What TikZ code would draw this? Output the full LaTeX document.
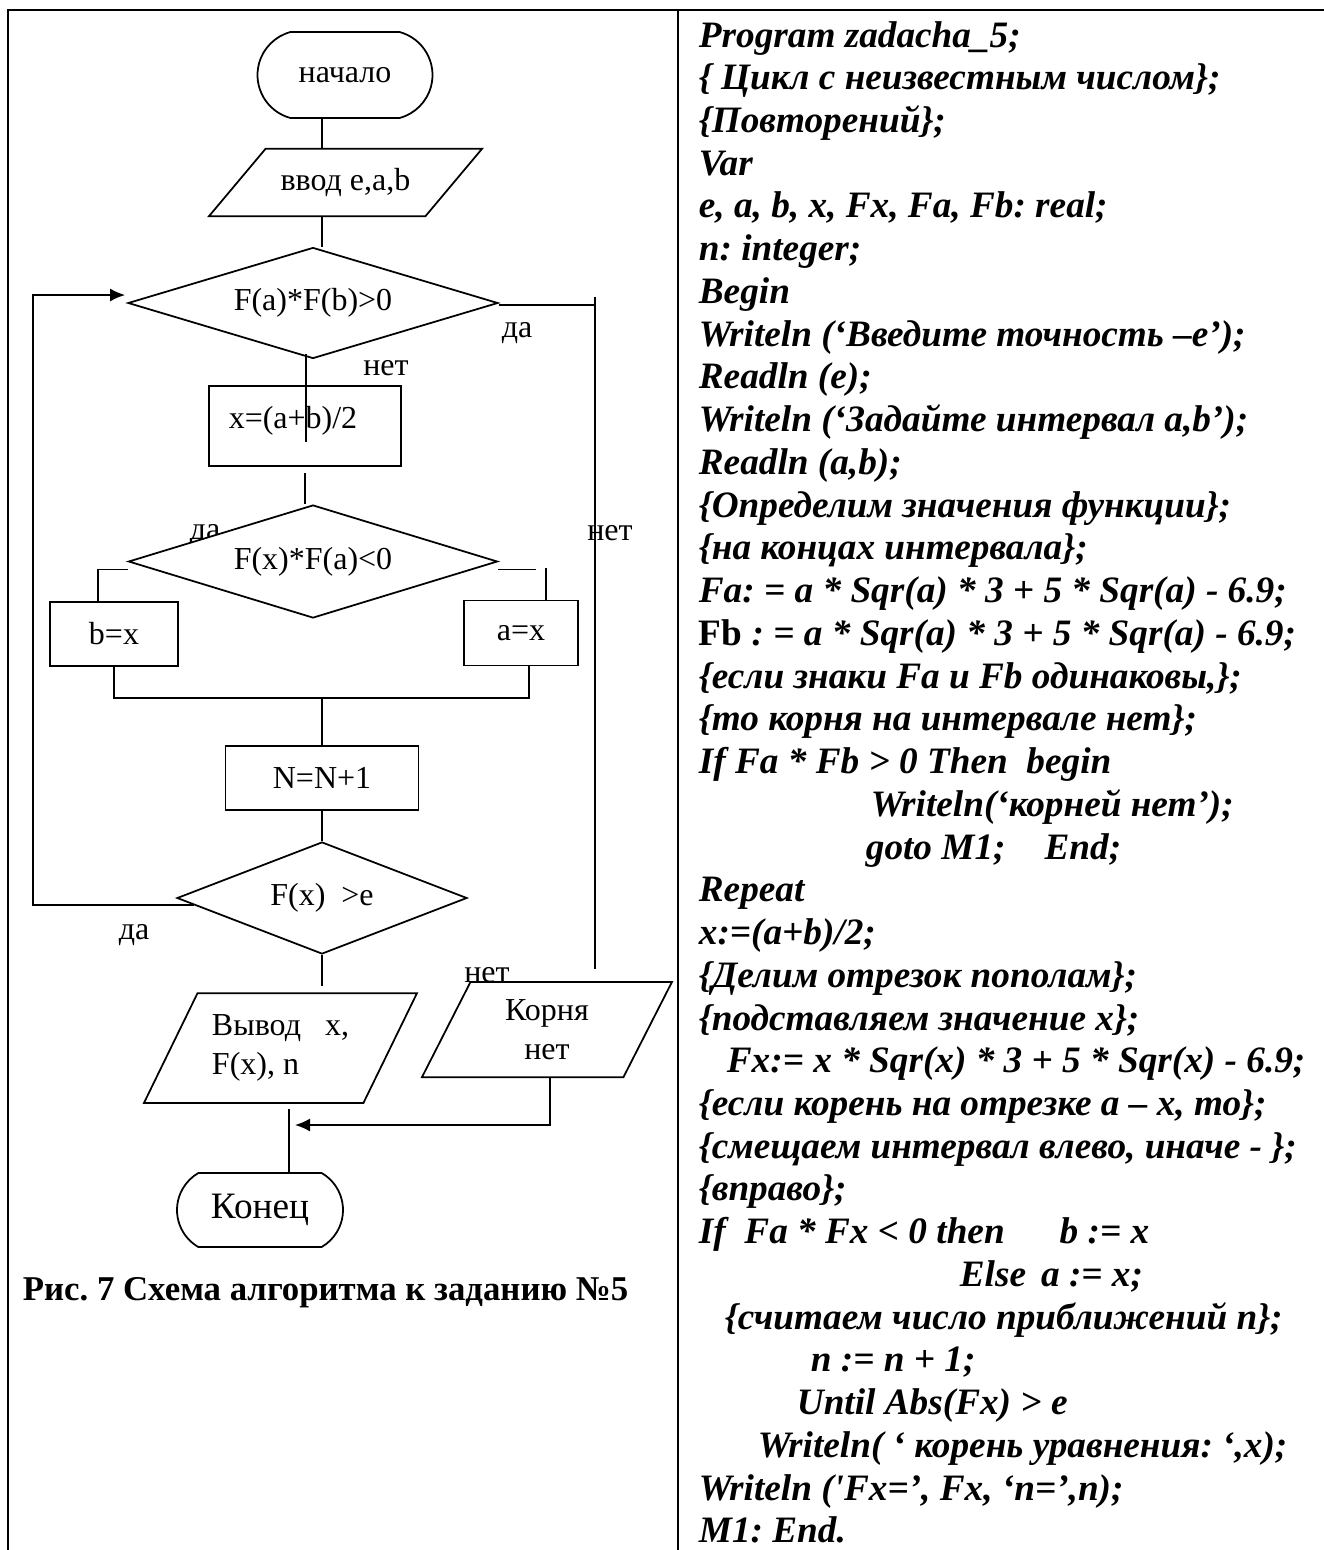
\documentclass[tikz,border=0pt]{standalone}
\usepackage{fontspec}
\setmainfont{Liberation Serif}
\newfontfamily\codefont{Liberation Serif}
\usetikzlibrary{shapes.geometric, shapes.misc, arrows.meta, calc, positioning}
\frenchspacing

\tikzset{
  flow/.style={draw, line width=1pt, fill=white, inner sep=0pt},
  term/.style={flow, rounded rectangle, rounded rectangle arc length=#1},
  proc/.style={flow, rectangle},
  iobox/.style={flow, trapezium, trapezium stretches body, align=left},
  cond/.style={flow, diamond, aspect=3},
  lbl/.style={inner sep=0pt},
  codetxt/.style={anchor=base west, inner sep=0pt,
    font=\codefont\bfseries\itshape\fontsize{21.2}{24.3}\selectfont},
}

\begin{document}
\begin{tikzpicture}[x=0.2mm, y=-0.2mm, line width=1pt,
    >={Latex[length=3mm, width=2.6mm]},
    font=\fontsize{18.2}{22.2}\selectfont]
    \useasboundingbox (0,0) rectangle (1324,1550);

    % table lines
    \draw[line width=1.4pt] (8,1550) -- (8,10) -- (1324,10);
    \draw[line width=1.4pt] (678,10) -- (678,1550);

    % labels first, the shapes cover them
    \node[lbl] (yes1) at (517,333) {да};
    \node[lbl] (no1) at (386,368) {нет};
    \node[lbl] (yes2) at (205,535) {да};
    \node[lbl] (no2) at (610,533) {нет};
    \node[lbl] (yes3) at (134,935) {да};
    \node[lbl] (no3) at (487,975) {нет};

    \node[term=150, minimum width=35mm, minimum height=17.2mm] (start) at (345,75) {начало};
    \node[iobox, trapezium left angle=50, trapezium right angle=130,
      minimum width=54.6mm, inner ysep=3.9mm] (input) at (345.5,182.5) {ввод e,a,b};
    \node[cond, minimum width=74mm, minimum height=22.2mm] (cond1) at (313,303) {F(a)*F(b)>0};
    \node[proc, minimum width=38.4mm, minimum height=16mm] (mid) at (305,426)
      {\raisebox{3.6mm}{x=(a+b)/2}\hspace{4.8mm}\mbox{}};
    \node[cond, minimum width=73.8mm, minimum height=22.6mm] (cond2) at (313,561.5) {F(x)*F(a)<0};
    \node[proc, minimum width=25.6mm, minimum height=12.8mm] (bx) at (114,634) {b=x};
    \node[proc, minimum width=22.8mm, minimum height=13mm] (ax) at (521,633) {a=x};
    \node[proc, minimum width=38.6mm, minimum height=12.8mm] (count) at (322,778) {N=N+1};
    \node[cond, minimum width=58mm, minimum height=22.4mm] (cond3) at (322,898) {F(x)\ \ >e};
    \node[iobox, trapezium left angle=64, trapezium right angle=116,
      minimum width=54.6mm, inner ysep=4.3mm] (out) at (280.5,1048) {Вывод\ \ \ x,\\F(x), n};
    \node[iobox, align=center, trapezium left angle=63, trapezium right angle=117,
      minimum width=50mm, inner ysep=3.5mm] (noroot) at (547,1029.5) {Корня\\нет};
    \node[term=120, minimum width=33.2mm, minimum height=14.8mm,
      font=\fontsize{21.2}{25}\selectfont] (end) at (260,1210) {Конец};

    \node[anchor=west, inner sep=0pt, font=\bfseries\fontsize{19.8}{24}\selectfont] (caption)
      at (22,1293) {Рис. 7 Схема алгоритма к заданию №5};

    % main line
    \coordinate (spine) at (322,0);
    \draw (start.south -| spine) -- (input.north -| spine);
    \draw (input.south -| spine) -- (cond1.north -| spine);
    \draw ($(cond1.south)+(-7,-5)$) -- ($(mid.north)+(1,57)$);
    \draw ($(mid.south)+(0,6)$) -- (cond2.north -| mid.south);

    % да of cond1
    \coordinate (rtop) at (595,297);
    \draw ([yshift=-0.4mm]cond1.east) -- ([yshift=-0.4mm]cond1.east -| rtop);
    \draw (rtop) -- ([yshift=2.4mm]noroot.north -| rtop);

    % branches of cond2
    \draw ($(cond2.west)+(0,8)$) -| ($(bx.north)+(-16,0)$);
    \draw ($(cond2.east)+(0,8)$) -- ++(38,0);
    \draw ($(ax.north)+(25,0)$) -- ++(0,-32);

    \coordinate (join) at (322,698);
    \coordinate (axs) at ($(ax.south)+(8,0)$);
    \draw (bx.south) |- (axs |- join) -- (axs);
    \draw (join) -- (count.north);
    \draw (count.south) -- (cond3.north);

    % loop back
    \draw[->] ($(cond3.west)+(18,7)$) -| ($(cond1.west)+(-94,-8)$) -- ($(cond1.west)+(-2,-8)$);

    % exits
    \draw (cond3.south) -- ($(out.north -| cond3.south)+(0,-6)$);
    \coordinate (endx) at (289,0);
    \draw ($(out.south -| endx)+(0,5)$) -- (end.north -| endx);
    \coordinate (merge) at (295,1125);
    \draw[->] ($(noroot.south)+(3,0)$) |- (merge);

    % program text
    \foreach \codeline [count=\i] in {
      {Program zadacha\_5;},
      {\{ Цикл с неизвестным числом\};},
      {\{Повторений\};},
      {Var},
      {e, a, b, x, Fx, Fa, Fb: real;},
      {n: integer;},
      {Begin},
      {Writeln (‘Введите точность –e’);},
      {Readln (e);},
      {Writeln (‘Задайте интервал a,b’);},
      {Readln (a,b);},
      {\{Определим значения функции\};},
      {\{на концах интервала\};},
      {Fa: = a * Sqr(a) * 3 + 5 * Sqr(a) - 6.9;},
      {{\upshape Fb} : = a * Sqr(a) * 3 + 5 * Sqr(a) - 6.9;},
      {\{если знаки Fa и Fb одинаковы,\};},
      {\{то корня на интервале нет\};},
      {If Fa * Fb > 0 Then\ \ begin},
      {\hspace*{34.4mm}Writeln(‘корней нет’);},
      {\hspace*{33.4mm}goto M1;\hspace{7.8mm}End;},
      {Repeat},
      {x:=(a+b)/2;},
      {\{Делим отрезок пополам\};},
      {\{подставляем значение x\};},
      {\hspace*{5.6mm}Fx:= x * Sqr(x) * 3 + 5 * Sqr(x) - 6.9;},
      {\{если корень на отрезке a – x, то\};},
      {\{смещаем интервал влево, иначе - \};},
      {\{вправо\};},
      {If\ \ Fa * Fx < 0 then\hspace{11mm}b := x},
      {\hspace*{52.2mm}Else\hspace{3mm}a := x;},
      {\hspace*{5.2mm}\{считаем число приближений n\};},
      {\hspace*{22.4mm}n := n + 1;},
      {\hspace*{19.6mm}Until Abs(Fx) > e},
      {\hspace*{11.8mm}Writeln( ‘ корень уравнения: ‘,x);},
      {Writeln ('Fx=’, Fx, ‘n=’,n);},
      {M1: End.}}
      \node[codetxt] (code-\i) at (698, {47+(\i-1)*42.74}) {\codeline};

\end{tikzpicture}
\end{document}
